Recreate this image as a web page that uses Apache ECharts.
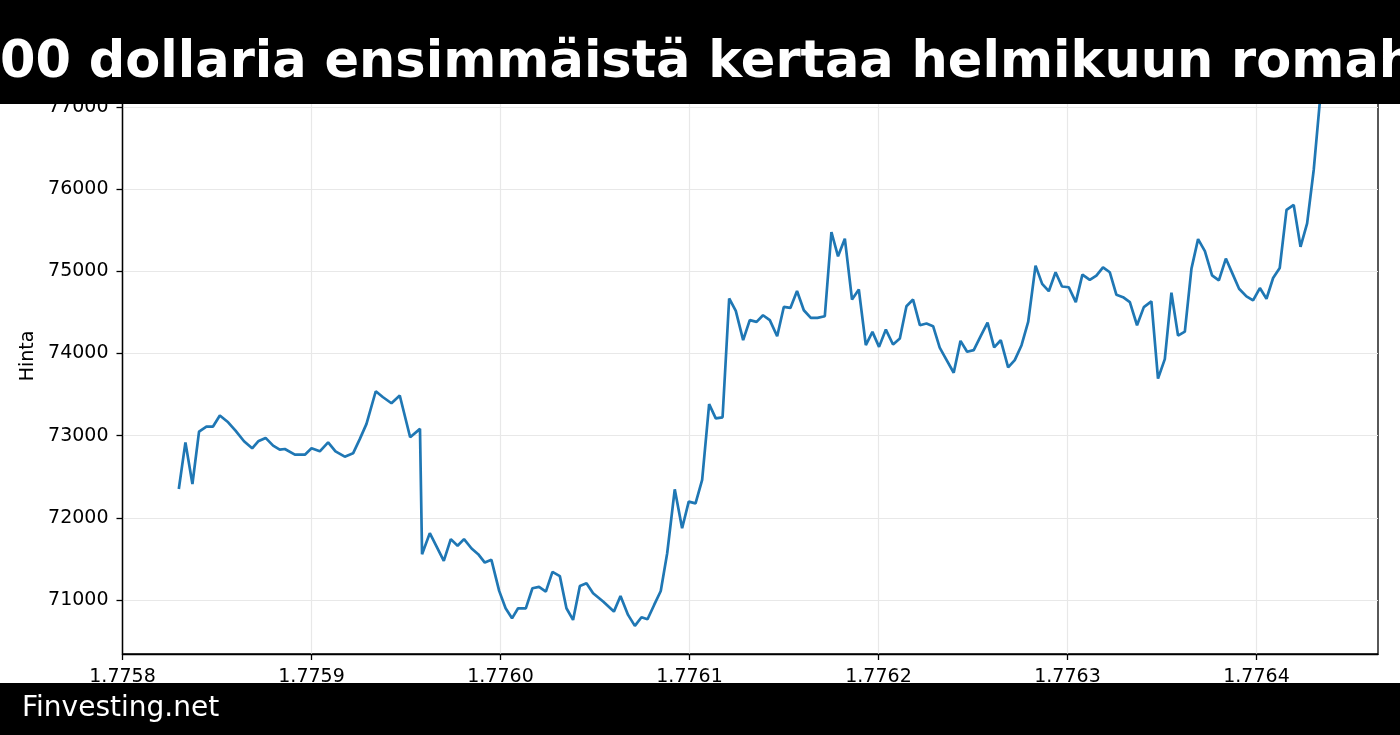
<!DOCTYPE html>
<html>
<head>
<meta charset="utf-8">
<script src="https://cdn.jsdelivr.net/npm/echarts@6/dist/echarts.min.js"></script>
<style>
html,body{margin:0;padding:0;background:#fff;}
#chart{width:1400px;height:735px;}
</style>
</head>
<body>
<div id="chart"></div>
<script>
// Timestamps (in units of 1e9 seconds, as shown on the axis) and prices
const timeValues = [
1.7758298,1.7758333,1.7758370,1.7758405,1.7758444,1.7758479,1.7758515,1.7758559,1.7758598,1.7758643,
1.7758686,1.7758718,1.7758757,1.7758797,1.7758832,1.7758859,1.7758912,1.7758965,1.7759000,1.7759044,
1.7759088,1.7759127,1.7759176,1.7759220,1.7759256,1.7759291,1.7759340,1.7759377,1.7759423,1.7759467,
1.7759522,1.7759574,1.7759585,1.7759626,1.7759700,1.7759737,1.7759773,1.7759807,1.7759847,1.7759882,
1.7759917,1.7759952,1.7759993,1.7760027,1.7760061,1.7760093,1.7760134,1.7760169,1.7760204,1.7760240,
1.7760275,1.7760314,1.7760349,1.7760384,1.7760420,1.7760455,1.7760490,1.7760543,1.7760600,1.7760635,
1.7760675,1.7760711,1.7760746,1.7760778,1.7760813,1.7760848,1.7760882,1.7760922,1.7760961,1.7760996,
1.7761032,1.7761067,1.7761104,1.7761139,1.7761175,1.7761210,1.7761245,1.7761284,1.7761319,1.7761355,
1.7761389,1.7761425,1.7761464,1.7761499,1.7761534,1.7761569,1.7761605,1.7761642,1.7761677,1.7761716,
1.7761751,1.7761786,1.7761822,1.7761860,1.7761896,1.7761933,1.7761968,1.7762003,1.7762039,1.7762077,
1.7762113,1.7762148,1.7762183,1.7762219,1.7762254,1.7762289,1.7762324,1.7762351,1.7762398,1.7762434,
1.7762469,1.7762504,1.7762540,1.7762577,1.7762612,1.7762647,1.7762686,1.7762721,1.7762757,1.7762792,
1.7762831,1.7762866,1.7762901,1.7762937,1.7762971,1.7763007,1.7763044,1.7763079,1.7763118,1.7763153,
1.7763188,1.7763224,1.7763259,1.7763294,1.7763330,1.7763368,1.7763404,1.7763444,1.7763479,1.7763515,
1.7763550,1.7763585,1.7763621,1.7763656,1.7763691,1.7763727,1.7763765,1.7763801,1.7763838,1.7763873,
1.7763908,1.7763947,1.7763982,1.7764018,1.7764053,1.7764088,1.7764123,1.7764159,1.7764197,1.7764233,
1.7764268,1.7764303,1.7764343
];
const priceValues = [
72350,72918,72411,73049,73110,73110,73244,73162,73061,72931,
72845,72931,72972,72878,72829,72837,72768,72768,72845,72809,
72918,72809,72744,72784,72960,73143,73540,73470,73394,73488,
72980,73082,71557,71813,71476,71740,71659,71740,71626,71557,
71455,71488,71110,70898,70776,70898,70898,71142,71159,71101,
71341,71290,70899,70757,71170,71203,71081,70980,70858,71049,
70818,70684,70790,70765,70939,71109,71568,72346,71872,72196,
72176,72460,73384,73210,73223,74669,74518,74162,74405,74384,
74465,74405,74210,74566,74554,74761,74526,74433,74433,74453,
75478,75182,75397,74656,74778,74101,74263,74080,74291,74109,
74182,74575,74656,74344,74364,74332,74070,73959,73765,74153,
74020,74040,74209,74375,74073,74161,73830,73919,74100,74383,
75069,74847,74758,74988,74815,74806,74625,74960,74896,74948,
75048,74988,74714,74685,74625,74343,74564,74633,73694,73931,
74739,74217,74266,75033,75392,75245,74951,74890,75155,74972,
74788,74694,74645,74796,74666,74918,75040,75747,75808,75298,
75584,76236,77260
];
const xTicks = [1.7758,1.7759,1.7760,1.7761,1.7762,1.7763,1.7764];
const yTicks = [71000,72000,73000,74000,75000,76000,77000];
const titleText = '00 dollaria ensimmäistä kertaa helmikuun romah';
const footerText = 'Finvesting.net';
const yAxisName = 'Hinta';

const seriesData = timeValues.map((t, i) => [t, priceValues[i]]);
const FONT = 'DejaVu Sans';

const chart = echarts.init(document.getElementById('chart'), null, {renderer: 'canvas'});
chart.setOption({
  animation: false,
  backgroundColor: '#ffffff',
  grid: {
    left: 122.5, right: 22, top: 58, bottom: 81,
    show: true, borderColor: '#000', borderWidth: 1.3, backgroundColor: 'transparent'
  },
  xAxis: {
    type: 'value',
    min: 1.7758, max: 1.7764643,
    axisLine: {show: true, lineStyle: {color: '#000', width: 1.3}},
    axisTick: {show: true, length: 6, lineStyle: {color: '#000', width: 1.3}, customValues: xTicks},
    axisLabel: {
      customValues: xTicks, margin: 14, color: '#000', fontFamily: FONT, fontSize: 19,
      formatter: v => Number(v).toFixed(4)
    },
    splitLine: {show: true, lineStyle: {color: '#e8e8e8', width: 1.2}}
  },
  yAxis: {
    type: 'value',
    min: 70342, max: 77596,
    name: yAxisName, nameLocation: 'middle', nameGap: 84, nameRotate: 90,
    nameTextStyle: {color: '#000', fontFamily: FONT, fontSize: 19},
    axisLine: {show: true, lineStyle: {color: '#000', width: 1.3}},
    axisTick: {show: true, length: 6, lineStyle: {color: '#000', width: 1.3}, customValues: yTicks},
    axisLabel: {
      customValues: yTicks, margin: 14, color: '#000', fontFamily: FONT, fontSize: 19,
      formatter: v => String(Math.round(v))
    },
    splitLine: {show: true, lineStyle: {color: '#e8e8e8', width: 1.2}}
  },
  series: [{
    type: 'line',
    data: seriesData,
    showSymbol: false,
    symbol: 'none',
    lineStyle: {color: '#1f77b4', width: 2.7},
    clip: true
  }],
  graphic: [
    {type: 'rect', z: 100, shape: {x: 0, y: 0, width: 1400, height: 104}, style: {fill: '#000'}},
    {type: 'text', z: 101, x: 0, y: 64, style: {
      text: titleText, fill: '#fff', font: 'bold 51px "DejaVu Sans"', textAlign: 'left', textVerticalAlign: 'middle'
    }},
    {type: 'rect', z: 100, shape: {x: 0, y: 683, width: 1400, height: 52}, style: {fill: '#000'}},
    {type: 'text', z: 101, x: 22, y: 709, style: {
      text: footerText, fill: '#fff', font: '28px "DejaVu Sans"', textAlign: 'left', textVerticalAlign: 'middle'
    }}
  ]
});
</script>
</body>
</html>
